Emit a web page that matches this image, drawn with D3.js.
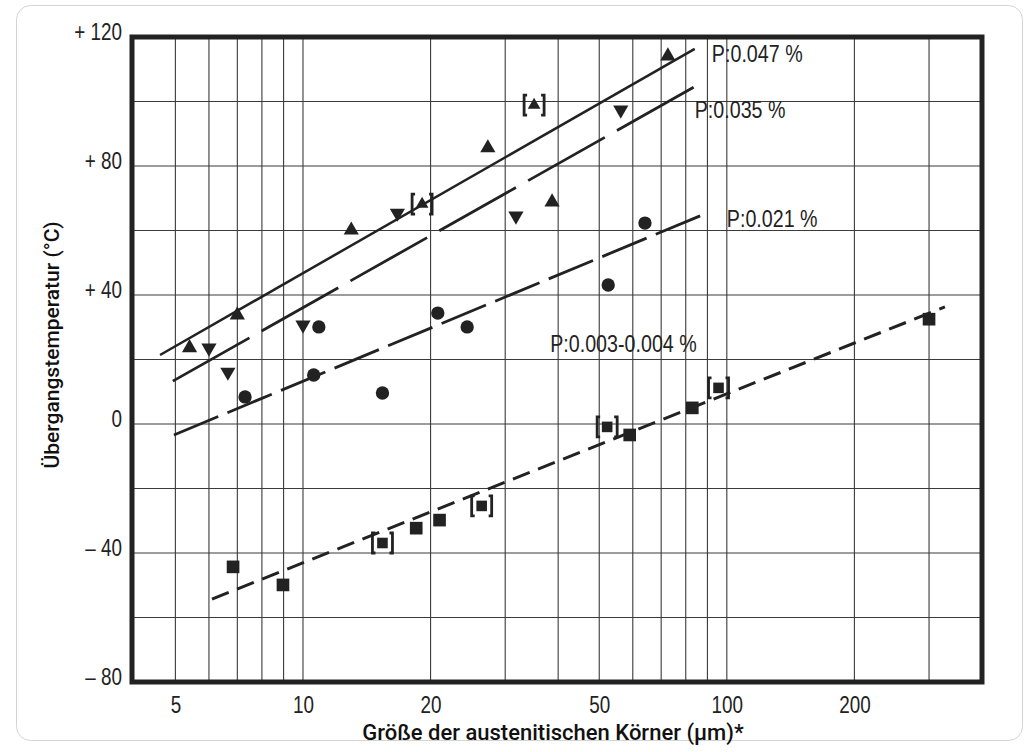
<!DOCTYPE html>
<html>
<head>
<meta charset="utf-8">
<script src="https://cdn.jsdelivr.net/npm/d3@7"></script>
<style>
  body { margin: 0; background: #fff; }
  svg { display: block; }
</style>
</head>
<body>
<svg width="1024" height="752"></svg>
<script>
// axis ticks and grid
const xTickValues = [5, 10, 20, 50, 100, 200];
const xGridValues = [5, 6, 7, 8, 9, 10, 20, 30, 40, 50, 60, 70, 80, 90, 100, 200, 300];
const yTickValues = [120, 80, 40, 0, -40, -80];
const yTickLabels = ["+ 120", "+ 80", "+ 40", "0", "\u2013 40", "\u2013 80"];
const yGridValues = [100, 80, 60, 40, 20, 0, -20, -40, -60];

// P:0.047 % -> triangles up (grain size um, temperature C)
const triUpGrain = [5.4, 7.0, 13.0, 19.1, 27.3, 35.1, 38.7, 72.6];
const triUpTemp = [23.6, 33.8, 60.1, 68.2, 85.6, 98.9, 68.8, 114.1];
const triUpBracket = [0, 0, 0, 1, 0, 1, 0, 0];

// P:0.035 % -> triangles down
const triDownGrain = [6.0, 6.65, 10.0, 16.7, 31.8, 56.2];
const triDownTemp = [23.6, 16.1, 30.7, 65.4, 64.5, 97.4];

// P:0.021 % -> circles
const circleGrain = [7.3, 10.6, 10.9, 15.4, 20.8, 24.4, 52.5, 64.1];
const circleTemp = [8.4, 15.2, 30.1, 9.6, 34.4, 30.1, 43.1, 62.3];

// P:0.003-0.004 % -> squares
const squareGrain = [6.84, 8.97, 15.4, 18.5, 21.0, 26.4, 52.2, 59.0, 82.9, 95.6, 300];
const squareTemp = [-44.3, -49.9, -36.9, -32.3, -29.8, -25.4, -0.9, -3.4, 5.0, 11.2, 32.5];
const squareBracket = [0, 0, 1, 0, 0, 1, 1, 0, 0, 1, 0];

// fitted lines: start / end as [grain, temp]
const lineNames = ["P:0.047 %", "P:0.035 %", "P:0.021 %", "P:0.003-0.004 %"];
const lineStart = [[4.6, 21.4], [4.93, 13.3], [4.96, -3.4], [6.1, -54.3]];
const lineEnd = [[84, 116.3], [88.8, 106.4], [89.7, 65.4], [327, 36.3]];
const labelAt = [[92.2, 112.2], [84.0, 94.9], [100, 61.1], [38.3, 22.3]];

const svg = d3.select('svg');
const width = +svg.attr('width');
const height = +svg.attr('height');
const margin = {top: 37, right: 42, bottom: 70, left: 132};
const innerWidth = width - margin.left - margin.right;
const innerHeight = height - margin.top - margin.bottom;

const ink = '#222';
// no condensed face installed, so squeeze Liberation Sans sideways
const narrow = "'Liberation Sans', Arial, sans-serif";
const squeeze = 'scale(0.82,1)';

// card outline
svg.append('rect')
  .attr('x', 16.5).attr('y', 5.5)
  .attr('width', 1006).attr('height', 735)
  .attr('rx', 14)
  .attr('fill', '#fff')
  .attr('stroke', '#d4d4d4');

const g = svg.append('g')
  .attr('transform', `translate(${margin.left},${margin.top})`);

const xScale = d3.scaleLog()
  .domain([3.95, 400])
  .range([0, innerWidth]);
const yScale = d3.scaleLinear()
  .domain([-80, 120])
  .range([innerHeight, 0]);

// grid
g.selectAll('line.vgrid')
  .data(xGridValues)
  .enter()
  .append('line')
  .attr('class', 'vgrid')
  .attr('x1', d => xScale(d)).attr('x2', d => xScale(d))
  .attr('y1', 0).attr('y2', innerHeight)
  .attr('stroke', '#3a3a3a')
  .attr('stroke-width', 1.1);

g.selectAll('line.hgrid')
  .data(yGridValues)
  .enter()
  .append('line')
  .attr('class', 'hgrid')
  .attr('x1', 0).attr('x2', innerWidth)
  .attr('y1', d => yScale(d)).attr('y2', d => yScale(d))
  .attr('stroke', '#3a3a3a')
  .attr('stroke-width', 1.1);

// axes (labels only, the frame is drawn below)
const yAxis = d3.axisLeft(yScale)
  .tickValues(yTickValues)
  .tickFormat((d, i) => yTickLabels[i])
  .tickSize(0);
const yAxisG = g.append('g').call(yAxis);
yAxisG.select('.domain').remove();
yAxisG.selectAll('text')
  .attr('x', 0)
  .attr('transform', 'translate(-10,-5) ' + squeeze)
  .attr('fill', ink)
  .style('font-family', narrow)
  .style('font-size', '23px');

const xAxis = d3.axisBottom(xScale)
  .tickValues(xTickValues)
  .tickFormat(d3.format('d'))
  .tickSize(0)
  .tickPadding(15);
const xAxisG = g.append('g')
  .attr('transform', `translate(0,${innerHeight})`)
  .call(xAxis);
xAxisG.select('.domain').remove();
xAxisG.selectAll('text')
  .attr('transform', squeeze)
  .attr('fill', ink)
  .style('font-family', narrow)
  .style('font-size', '23px');

// fitted lines
const dashes = [null, '88,14', '48,10', '18,9'];
const widths = [2.5, 2.8, 2.8, 3];
const fits = lineNames.map((name, i) => ({
  name: name,
  x1: lineStart[i][0], y1: lineStart[i][1],
  x2: lineEnd[i][0], y2: lineEnd[i][1],
  lx: labelAt[i][0], ly: labelAt[i][1],
  dash: dashes[i], w: widths[i]
}));

g.selectAll('line.fit')
  .data(fits)
  .enter()
  .append('line')
  .attr('class', 'fit')
  .attr('x1', d => xScale(d.x1)).attr('y1', d => yScale(d.y1))
  .attr('x2', d => xScale(d.x2)).attr('y2', d => yScale(d.y2))
  .attr('stroke', ink)
  .attr('stroke-width', d => d.w)
  .attr('stroke-dasharray', d => d.dash);

g.selectAll('text.fitlabel')
  .data(fits)
  .enter()
  .append('text')
  .attr('class', 'fitlabel')
  .attr('transform', d => `translate(${xScale(d.lx)},${yScale(d.ly)}) ` + squeeze)
  .attr('fill', ink)
  .style('font-family', narrow)
  .style('font-size', '24px')
  .text(d => d.name);

// markers
const zip = (xs, ys, br) => xs.map((x, i) => ({x: x, y: ys[i], br: br ? br[i] : 0}));
const triUp = zip(triUpGrain, triUpTemp, triUpBracket);
const triDown = zip(triDownGrain, triDownTemp);
const circles = zip(circleGrain, circleTemp);
const squares = zip(squareGrain, squareTemp, squareBracket);

const drawSymbol = (data, type, size, rotate) => {
  g.append('g').selectAll('path')
    .data(data)
    .enter()
    .append('path')
    .attr('d', d => d3.symbol().type(type).size(d.br ? size * 0.7 : size)())
    .attr('transform', d => `translate(${xScale(d.x)},${yScale(d.y)}) rotate(${rotate})`)
    .attr('fill', ink);
};
drawSymbol(triUp, d3.symbolTriangle, 100, 0);
drawSymbol(triDown, d3.symbolTriangle, 100, 180);
drawSymbol(circles, d3.symbolCircle, 140, 0);
drawSymbol(squares, d3.symbolSquare, 160, 0);

// brackets around uncertain values
const bracketed = triUp.concat(squares).filter(d => d.br);
const bracket = g.append('g').selectAll('g')
  .data(bracketed)
  .enter()
  .append('g')
  .attr('transform', d => `translate(${xScale(d.x)},${yScale(d.y)})`);
bracket.append('path')
  .attr('d', 'M-7,-10 H-10 V10 H-7 M7,-10 H10 V10 H7')
  .attr('fill', 'none')
  .attr('stroke', ink)
  .attr('stroke-width', 2.8);

// frame
g.append('rect')
  .attr('width', innerWidth)
  .attr('height', innerHeight)
  .attr('fill', 'none')
  .attr('stroke', ink)
  .attr('stroke-width', 5);

// axis titles
const titleFont = "Roboto, 'Noto Sans', sans-serif";
svg.append('text')
  .attr('transform', `translate(59,${margin.top + 308}) rotate(-90)`)
  .attr('text-anchor', 'middle')
  .attr('fill', '#111')
  .style('font-family', titleFont)
  .style('font-weight', 500)
  .style('font-size', '21px')
  .text('Übergangstemperatur (°C)');

svg.append('text')
  .attr('x', 553)
  .attr('y', 740)
  .attr('text-anchor', 'middle')
  .attr('fill', '#111')
  .style('font-family', titleFont)
  .style('font-weight', 500)
  .style('font-size', '22px')
  .text('Größe der austenitischen Körner (µm)*');
</script>
</body>
</html>
